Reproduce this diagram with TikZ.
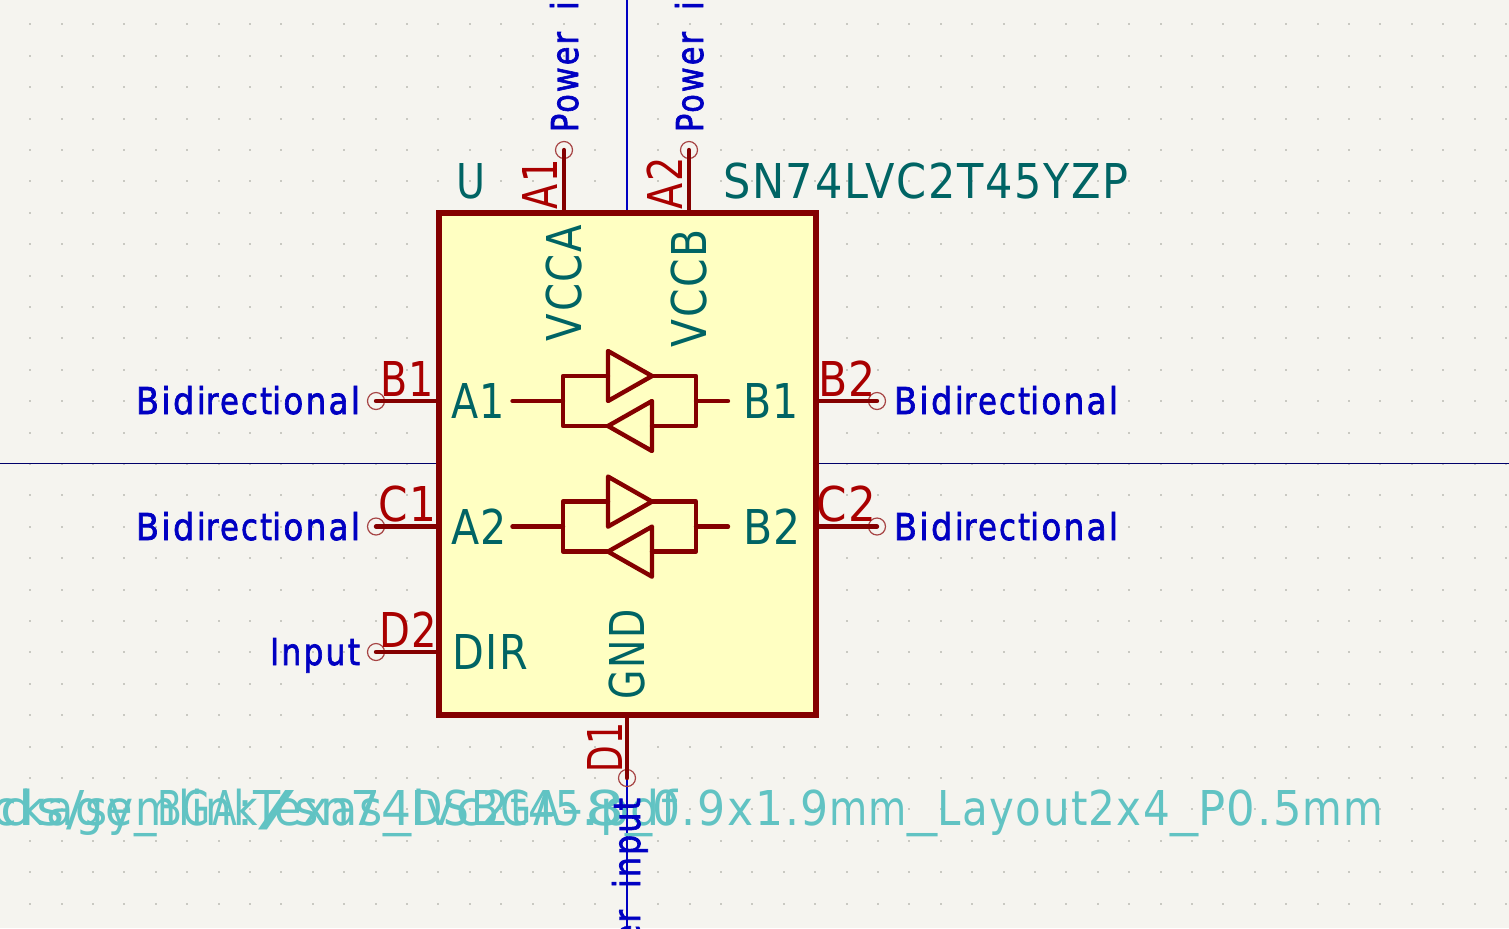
\documentclass[tikz,border=0pt]{standalone}
\usepackage{fontspec}
\usepackage{graphicx}
\setmainfont[LetterSpace=4]{DejaVu Sans}
\newfontfamily\kbold[FakeBold=2,LetterSpace=7]{DejaVu Sans}
\definecolor{bgc}{HTML}{F5F4EF}
\definecolor{bodyc}{HTML}{840000}
\definecolor{fillc}{HTML}{FFFFC2}
\definecolor{pinc}{HTML}{A90000}
\definecolor{tealc}{HTML}{006464}
\definecolor{bluec}{HTML}{0000C2}
\definecolor{cyanc}{HTML}{61C3C3}
\definecolor{ringc}{HTML}{A64444}
\definecolor{axisc}{HTML}{00006A}
\definecolor{dotc}{HTML}{C9C9C2}
\newcommand\tw[2]{\resizebox{\dimexpr #1pt/2\relax}{\height}{#2}}
\newcommand\us{\rule{0pt}{1ex}\_}
\newcommand\powerinput{\tw{100}{Power}\hspace*{11pt}\tw{90}{input}}
\newcommand\bidir{\tw{70}{Bidi}\tw{66}{rect}\tw{88}{ional}}
\tikzset{
  x=0.5pt,y=-0.5pt,
  txt/.style={inner sep=0pt,outer sep=0pt,font=\fontsize{24}{24}\selectfont},
  pintext/.style={txt,text=pinc},
  symtext/.style={txt,text=tealc},
  nettext/.style={inner sep=0pt,outer sep=0pt,font=\kbold\fontsize{18.5}{18.5}\selectfont,text=bluec},
  fptext/.style={txt,text=cyanc},
  pinline/.style={draw=bodyc,line width=2.2pt,line cap=round},
  gate/.style={draw=bodyc,line width=2.2pt,line join=round,line cap=round},
  ring/.style={circle,draw=ringc,line width=0.6pt,minimum size=8.5pt,inner sep=0pt},
}
\begin{document}
\begin{tikzpicture}
\useasboundingbox (0,0) rectangle (1509,928);
\clip (0,0) rectangle (1509,928);
\fill[bgc] (0,0) rectangle (1509,928);
% grid
\foreach \i in {0,...,47}{\foreach \j in {0,...,28}{
  \fill[dotc] ({30.2+31.4*\i-1},{24.4+31.4*\j-1}) rectangle ++(2,2);}}
% axes
\coordinate (axl) at (0,463.5); \coordinate (axr) at (1509,463.5);
\coordinate (ayt) at (627,0); \coordinate (ayb) at (627,928);
\draw[axisc,line width=0.6pt] (axl) -- (axr);
\draw[bluec,line width=0.6pt] (ayt) -- (ayb);
% body
\node[draw=bodyc,line width=3pt,fill=fillc,minimum width=188.5pt,minimum height=251pt,inner sep=0pt,outer sep=0pt,anchor=north west] (body) at (439,213) {};
% pin rings
\node[ring] (ra1) at (564,150) {};
\node[ring] (ra2) at (689,150) {};
\node[ring] (rb1) at (376,401) {};
\node[ring] (rc1) at (376,526.5) {};
\node[ring] (rd2) at (376,652) {};
\node[ring] (rb2) at (877,401) {};
\node[ring] (rc2) at (877,526.5) {};
\node[ring] (rd1) at (627,778) {};
% pins
\draw[pinline] (ra1.center) -- (ra1.center |- body.north);
\draw[pinline] (ra2.center) -- (ra2.center |- body.north);
\draw[pinline] (rb1.center) -- (rb1.center -| body.west);
\draw[pinline] (rc1.center) -- (rc1.center -| body.west);
\draw[pinline] (rd2.center) -- (rd2.center -| body.west);
\draw[pinline] (rb2.center) -- (rb2.center -| body.east);
\draw[pinline] (rc2.center) -- (rc2.center -| body.east);
\draw[pinline] (rd1.center) -- (rd1.center |- body.south);
% gates
\foreach \o in {0,125.6}{
  \begin{scope}[yshift=-\o*0.5pt]
  \draw[gate] (512.5,401) -- (563,401);
  \draw[gate] (696,401) -- (728,401);
  \draw[gate] (608,376) -- (563,376) -- (563,426) -- (608,426);
  \draw[gate] (652,376) -- (696,376) -- (696,426) -- (652,426);
  \draw[gate] (608,351) -- (652,376) -- (608,401) -- cycle;
  \draw[gate] (652,401) -- (608,426) -- (652,451) -- cycle;
  \end{scope}
}
% footprint and datasheet
\node[fptext,anchor=base west] (fp) at (-63,825) {\mbox{\tw{220}{Package\_}\tw{80}{BGA}\tw{16}{:}\tw{130}{Texas}\tw{28}{\us}\tw{150}{DSBGA}\tw{64}{-8}\tw{27}{\us}\tw{177}{0.9x1.9}\tw{78}{mm}\tw{30}{\us}\tw{151}{Layout}\tw{82}{2x4}\tw{28}{\us}\tw{104}{P0.5}\tw{81}{mm}}};
\node[fptext,anchor=base west] (ds) at (-500,825) {\mbox{\tw{500}{https://www.ti.com/lit/}\tw{85}{ds/}\tw{173}{symlink}\tw{36}{/}\tw{56}{sn}\tw{62}{74}\tw{70}{lvc}\tw{73}{2t4}\tw{25}{5}\tw{20}{.}\tw{78}{pdf}}};
% reference & value
\node[symtext,anchor=base west] (ref) at (456,198) {\tw{29}{U}};
\node[symtext,anchor=base west] (val) at (723,198) {\tw{406}{SN74LVC2T45YZP}};
% pin numbers
\node[pintext,anchor=base west,rotate=90] (na1) at (557,209) {\tw{50}{A1}};
\node[pintext,anchor=base west,rotate=90] (na2) at (682,209) {\tw{52}{A2}};
\node[pintext,anchor=base west] (nb1) at (380,396) {\tw{54}{B1}};
\node[pintext,anchor=base west] (nc1) at (378,521) {\tw{58}{C1}};
\node[pintext,anchor=base west] (nd2) at (379,647) {\tw{58}{D2}};
\node[pintext,anchor=base west] (nb2) at (818,396) {\tw{58}{B2}};
\node[pintext,anchor=base west] (nc2) at (816,521) {\tw{60}{C2}};
\node[pintext,anchor=base west,rotate=90] (nd1) at (622,772) {\tw{50}{D1}};
% pin names
\node[symtext,anchor=base west] (ta1) at (451,418) {\tw{54}{A1}};
\node[symtext,anchor=base west] (ta2) at (451,544) {\tw{56}{A2}};
\node[symtext,anchor=base west] (tb1) at (743,418) {\tw{56}{B1}};
\node[symtext,anchor=base west] (tb2) at (743,544) {\tw{58}{B2}};
\node[symtext,anchor=base west] (tdir) at (452,669) {\tw{76}{DIR}};
\node[symtext,anchor=base west,rotate=90] (tva) at (581,341) {\tw{116}{VCCA}};
\node[symtext,anchor=base west,rotate=90] (tvb) at (706,347) {\tw{118}{VCCB}};
\node[symtext,anchor=base west,rotate=90] (tgnd) at (644,699) {\tw{90}{GND}};
% net type labels
\node[nettext,anchor=base east] (l1) at (360,414) {\bidir};
\node[nettext,anchor=base east] (l2) at (360,540) {\bidir};
\node[nettext,anchor=base east] (l3) at (360,665) {\tw{90}{Input}};
\node[nettext,anchor=base west] (l4) at (894,414) {\bidir};
\node[nettext,anchor=base west] (l5) at (894,540) {\bidir};
\node[nettext,anchor=base west,rotate=90] (l6) at (578,132) {\powerinput};
\node[nettext,anchor=base west,rotate=90] (l7) at (703,132) {\powerinput};
\node[nettext,anchor=base east,rotate=90] (l8) at (640,798) {\powerinput};
\end{tikzpicture}
\end{document}
